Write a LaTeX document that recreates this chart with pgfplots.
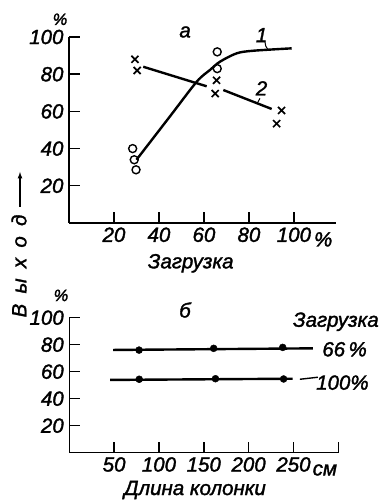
\documentclass[border=0pt]{standalone}
\usepackage{pgfplots}
\pgfplotsset{compat=1.18}
\usepackage{fontspec}
\setmainfont{Liberation Sans}
\newfontfamily\tf[FakeBold=1.6]{Liberation Sans}
\newcommand{\tk}{\tf\itshape\fontsize{20.5}{24}\selectfont}
\newcommand{\lb}{\tf\itshape\fontsize{20.5}{24}\selectfont}
\begin{document}
\begin{tikzpicture}
\useasboundingbox (0,0) rectangle (385pt,502pt);
\pgfplotsset{
  myax/.style={
    scale only axis,
    anchor=south west,
    axis x line=bottom, axis y line=left,
    axis line style={-, line width=1.6pt},
    tick align=inside,
    major tick length=11pt,
    tick style={line width=1.4pt, black},
    ymin=0, ymax=100,
    ytick={20,40,60,80,100},
    yticklabels={20,40,60,80,100},
    ticklabel style={font=\tk},
    yticklabel style={xshift=-2pt},
    xticklabel style={yshift=-1pt},
    clip=false,
  }
}
% ---- top plot (a)
\begin{axis}[myax,
  at={(69pt,279pt)}, width=267pt, height=186pt,
  xmin=0, xmax=118.7,
  xtick={20,40,60,80,100},
  xticklabels={20,40,60,80,100},
]
\addplot[only marks, mark=o, mark size=4pt, mark options={line width=1.4pt}]
  coordinates {(28.3,40)(29,34)(29.8,28.6)(65.9,92)(65.9,83)};
\addplot[only marks, mark=x, mark size=5pt, mark options={line width=1.7pt}]
  coordinates {(29.3,88)(30.3,82)(65.6,76.7)(65,69.6)(94.5,60.5)(92.3,53.4)};
\addplot[smooth, line width=2.4pt] coordinates
  {(30,34)(45,57.5)(56.8,76)(62.7,82.3)(67.1,86.7)(74.5,91.2)(81.8,92.6)(99,93.9)};
\addplot[line width=2.4pt] coordinates {(33,84)(61.2,73.5)};
\addplot[line width=2.4pt] coordinates {(68.6,71.5)(90.1,61.3)};
\draw[line width=1pt] (axis cs:87.1,97.5) to[bend right=20] (axis cs:88.6,93);
\draw[line width=1pt] (axis cs:84.9,67) -- (axis cs:83.7,64.4);
\node[font=\lb] at (axis cs:85.6,101) {1};
\node[font=\lb] at (axis cs:85.6,72.4) {2};
\node[font=\lb] at (axis cs:51.6,102.7) {а};
\node[font=\tk, scale=0.8, inner sep=0pt] at (axis cs:-4,109.5) {\%};
\node[font=\tk] at (axis cs:113,-8.8) {\%};
\end{axis}
% ---- bottom plot (b)
\begin{axis}[myax,
  at={(69.3pt,49.3pt)}, width=269pt, height=135pt,
  xmin=0, xmax=300,
  xtick={50,100,150,200,250,300},
  xticklabels={50,100,150,200,250,{}},
]
\addplot[line width=2.4pt] coordinates {(49,76.1)(271.6,77.3)};
\addplot[line width=2.4pt] coordinates {(45.4,53.9)(249,54.8)};
\addplot[only marks, mark=*, mark size=3.5pt] coordinates {(77.8,76)(161,77.3)(238,78)};
\addplot[only marks, mark=*, mark size=3.5pt] coordinates {(78,54.4)(163,54.8)(239,54.6)};
\draw[line width=1.4pt] (axis cs:257.2,54.4) -- (axis cs:277.3,55.9);
\node[font=\lb] at (axis cs:129,105.7) {б};
\node[font=\lb] at (axis cs:297.3,97) {Загрузка};
\node[font=\lb] at (axis cs:307,76.6) {66\,\%};
\node[font=\lb] at (axis cs:304.6,51.9) {100\%};
\node[font=\tk] at (axis cs:285,-12.8) {см};
\node[font=\tk, scale=0.8, inner sep=0pt] at (axis cs:-9.3,116.5) {\%};
\end{axis}
\node[font=\lb] at (190.7pt,238.7pt) {Загрузка};
\node[font=\lb] at (195pt,12pt) {Длина колонки};
\node[font=\lb, rotate=90] at (19pt,236pt) {В\hspace{0.5em}ы\hspace{0.5em}х\hspace{0.5em}о\hspace{0.5em}д};
\draw[line width=1.2pt, -latex] (20pt,295pt) -- (20pt,330pt);
\end{tikzpicture}
\end{document}
